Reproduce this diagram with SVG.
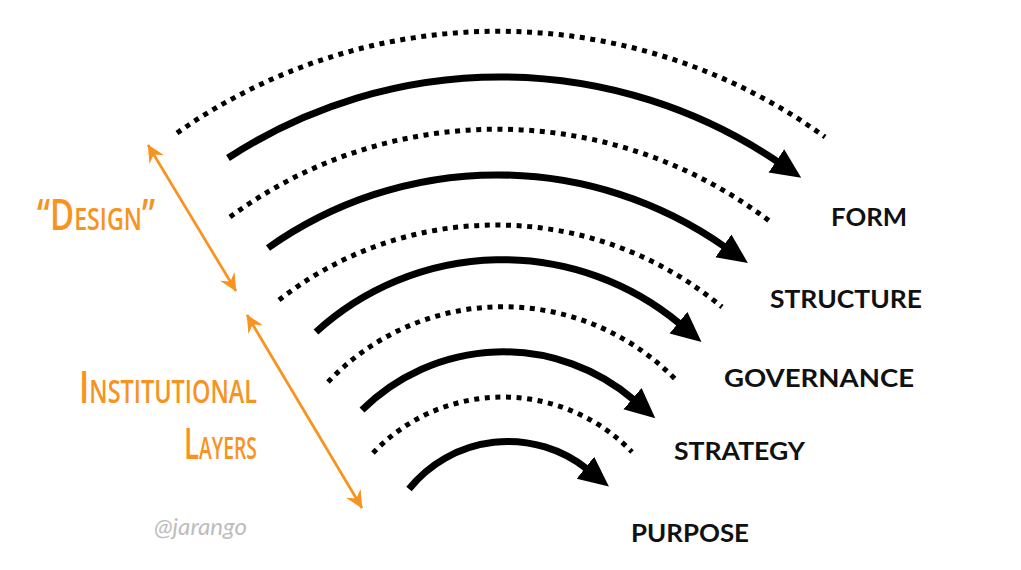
<svg xmlns="http://www.w3.org/2000/svg" width="1021" height="570" viewBox="0 0 1021 570">
  <style>
    .solid { fill: none; stroke: #000; stroke-width: 7; marker-end: url(#ah); }
    .dot { fill: none; stroke: #000; stroke-width: 5; stroke-dasharray: 5 5.6; }
    .orange { fill: none; stroke: #F7931E; stroke-width: 2.7; marker-start: url(#oh); marker-end: url(#oh); }
    .lbl { font-family: Lato, "Noto Sans", "Liberation Sans", sans-serif; font-weight: 700; font-size: 24.5px; fill: #111; }
    .otx { font-family: "Open Sans", "Liberation Sans", sans-serif; font-weight: 600; font-variant: small-caps; fill: #F7931E; }
    .sig { font-family: Lato, "Liberation Sans", sans-serif; font-style: italic; font-size: 23px; fill: #BDBDBD; }
  </style>
  <defs>
    <marker id="ah" markerUnits="userSpaceOnUse" viewBox="0 -15 32 30" markerWidth="32" markerHeight="30" refX="2" refY="0" orient="auto">
      <path d="M0,-14 L30,0 L0,14 Z" fill="#000"/>
    </marker>
    <marker id="oh" markerUnits="userSpaceOnUse" viewBox="-19 -10 20 20" markerWidth="20" markerHeight="20" refX="0" refY="0" orient="auto-start-reverse">
      <path d="M0.5,0 L-17,-8.5 L-11,0 L-17,8.5 Z" fill="#F7931E"/>
    </marker>
  </defs>
  <rect width="1021" height="570" fill="#fff"/>

  <g id="connectors">
    <path class="dot" d="M177,133 A558,558 0 0 1 825,137"/>
    <path class="solid" d="M228,158 A497,497 0 0 1 778,162"/>
    <path class="dot" d="M230,217 A450,450 0 0 1 772,223"/>
    <path class="solid" d="M268,248 A396,396 0 0 1 725,247"/>
    <path class="dot" d="M279,300 A352,352 0 0 1 722,307"/>
    <path class="solid" d="M316,332 A277,277 0 0 1 680,324"/>
    <path class="dot" d="M328,382 A241,241 0 0 1 677,381"/>
    <path class="solid" d="M362,410 A201,201 0 0 1 634,400"/>
    <path class="dot" d="M373,453 A179,179 0 0 1 632,452"/>
    <path class="solid" d="M409,489 A127,127 0 0 1 587,469"/>
    <path class="orange" d="M148,145 L236,291"/>
    <path class="orange" d="M247,315 L362,508"/>
  </g>

  <g id="form"><text class="lbl" x="831" y="226" textLength="76" lengthAdjust="spacingAndGlyphs">FORM</text></g>
  <g id="structure"><text class="lbl" x="770" y="308" textLength="152" lengthAdjust="spacingAndGlyphs">STRUCTURE</text></g>
  <g id="governance"><text class="lbl" x="724" y="387" textLength="190" lengthAdjust="spacingAndGlyphs">GOVERNANCE</text></g>
  <g id="strategy"><text class="lbl" x="674" y="460" textLength="131" lengthAdjust="spacingAndGlyphs">STRATEGY</text></g>
  <g id="purpose"><text class="lbl" x="631" y="542" textLength="118" lengthAdjust="spacingAndGlyphs">PURPOSE</text></g>

  <g id="design-label">
    <text class="otx" x="37" y="230" font-size="44" textLength="118" lengthAdjust="spacingAndGlyphs">“Design”</text>
  </g>
  <g id="institutional-label">
    <text class="otx" x="79" y="403" font-size="46" textLength="178" lengthAdjust="spacingAndGlyphs">Institutional</text>
    <text class="otx" x="184" y="459" font-size="43" textLength="73" lengthAdjust="spacingAndGlyphs">Layers</text>
  </g>
  <g id="signature"><text class="sig" x="154" y="535" textLength="93" lengthAdjust="spacingAndGlyphs">@jarango</text></g>
</svg>
